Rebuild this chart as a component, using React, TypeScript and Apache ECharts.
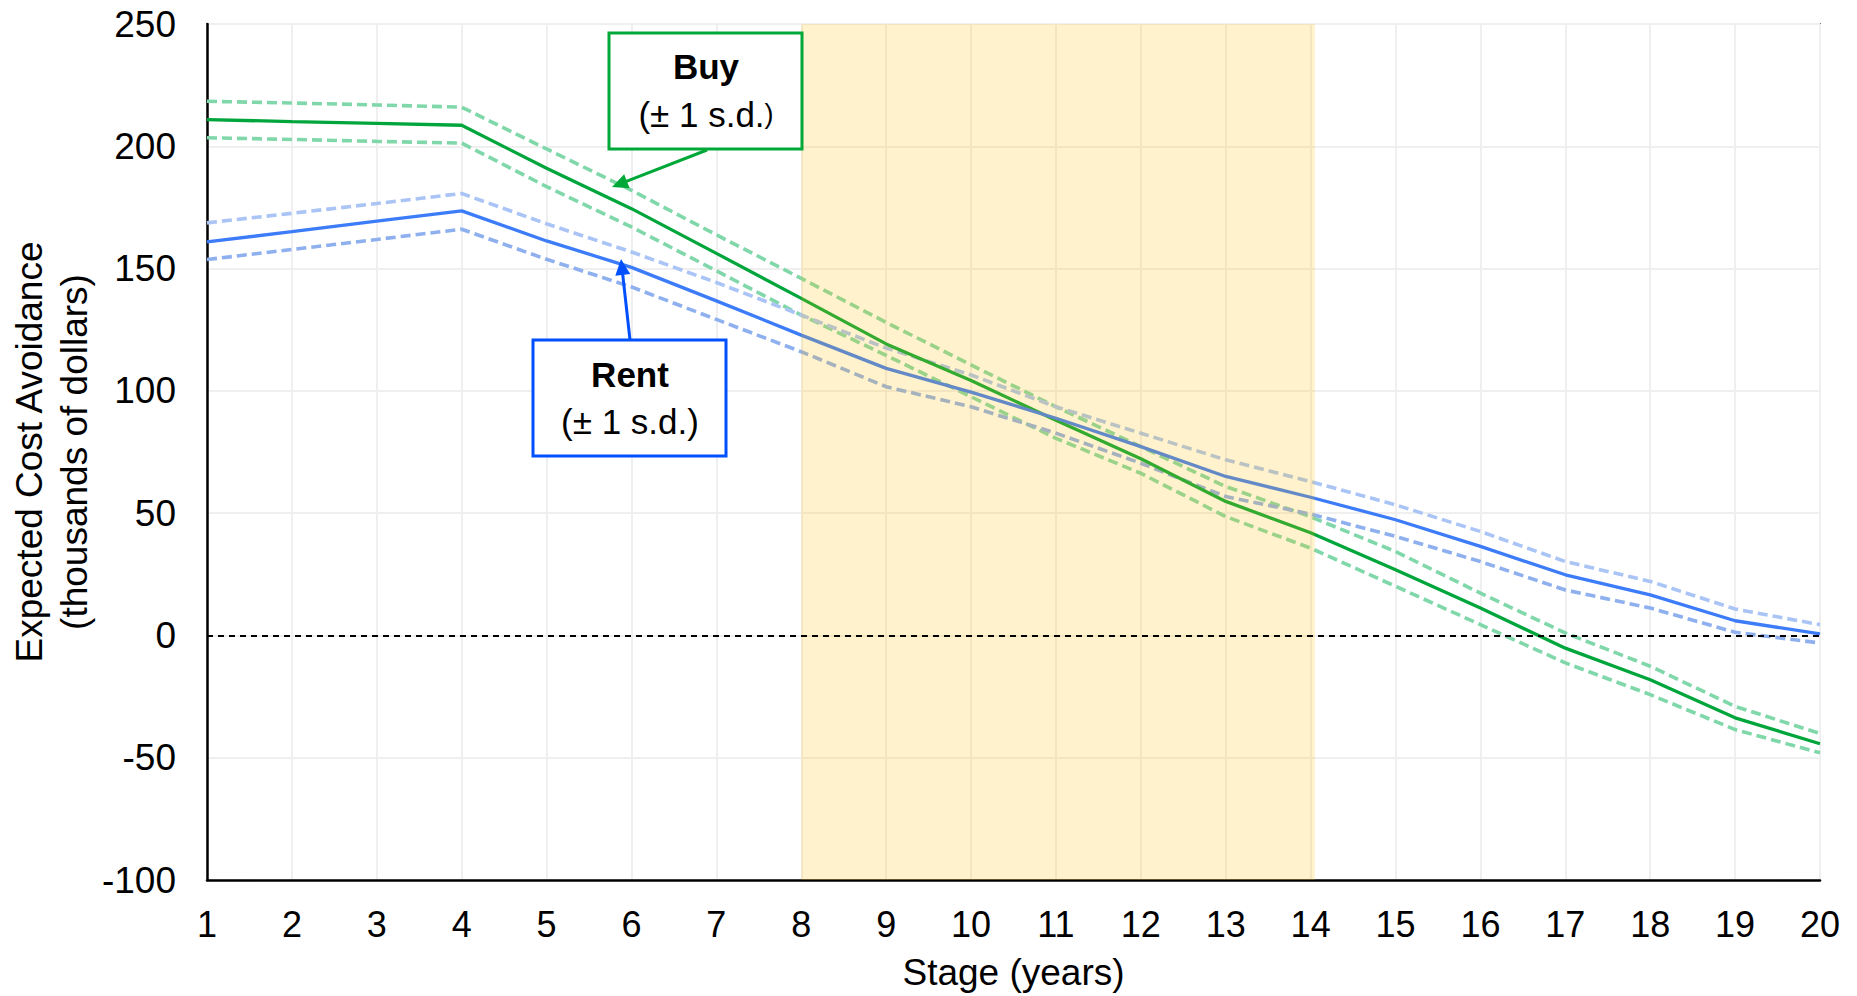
import React, { useEffect, useRef } from "react";
import * as echarts from "echarts";

const stages = [1, 2, 3, 4, 5, 6, 7, 8, 9, 10, 11, 12, 13, 14, 15, 16, 17, 18, 19, 20];
const buyMean = [210.9, 210.1, 209.4, 208.6, 191.0, 174.5, 156.2, 137.8, 119.2, 104.2, 88.0, 72.2, 54.8, 42.0, 26.9, 11.2, -5.2, -18.1, -33.7, -44.3];
const buyUpper = [218.4, 217.7, 216.9, 216.0, 198.9, 182.0, 163.8, 146.0, 128.0, 110.6, 93.5, 77.2, 60.9, 48.5, 34.3, 17.3, 1.0, -12.6, -29.0, -40.1];
const buyLower = [203.5, 202.8, 202.0, 201.3, 183.5, 167.0, 149.1, 131.0, 114.5, 97.6, 80.6, 66.3, 48.6, 35.7, 20.1, 4.4, -11.2, -24.2, -38.5, -48.0];
const rentMean = [160.9, 165.1, 169.4, 173.6, 161.3, 150.5, 136.8, 122.8, 109.2, 99.5, 88.8, 77.2, 65.0, 56.5, 47.3, 36.4, 24.8, 16.6, 6.0, 0.6];
const rentUpper = [168.7, 172.6, 176.6, 180.7, 168.3, 156.8, 144.3, 131.0, 117.5, 106.5, 93.5, 82.7, 71.8, 62.9, 53.4, 42.5, 30.2, 22.1, 10.8, 4.4];
const rentLower = [153.7, 157.8, 161.9, 166.1, 153.8, 142.5, 129.2, 116.0, 101.7, 93.5, 82.7, 70.4, 56.8, 49.6, 40.5, 30.2, 18.6, 11.2, 1.3, -3.1];
const shadedRange = [8, 14.05];
const zeroLevel = 0;

const F = "'Liberation Sans', Arial, Helvetica, sans-serif";

function pairs(vals: number[]) {
  return stages.map((s, i) => [s, vals[i]]);
}

function arrow(x1: number, y1: number, x2: number, y2: number, color: string) {
  const dx = x2 - x1;
  const dy = y2 - y1;
  const len = Math.sqrt(dx * dx + dy * dy);
  const ux = dx / len;
  const uy = dy / len;
  const hl = 16;
  const hw = 7.5;
  const bx = x2 - ux * hl;
  const by = y2 - uy * hl;
  const nx = -uy;
  const ny = ux;
  return [
    {
      type: "line",
      z: 100,
      shape: { x1, y1, x2: bx + ux * 2, y2: by + uy * 2 },
      style: { stroke: color, lineWidth: 3 },
    },
    {
      type: "polygon",
      z: 100,
      shape: {
        points: [
          [x2, y2],
          [bx + nx * hw, by + ny * hw],
          [bx - nx * hw, by - ny * hw],
        ],
      },
      style: { fill: color },
    },
  ];
}

function label(x: number, y: number, text: string, size: number, weight: string, rich?: any) {
  return {
    type: "text",
    z: 101,
    x,
    y,
    style: {
      text,
      fontSize: size,
      fontFamily: F,
      fontWeight: weight,
      fill: "#000",
      align: "center",
      verticalAlign: "middle",
      textAlign: "center",
      textVerticalAlign: "middle",
      rich,
    },
  };
}

export default function App() {
  const ref = useRef<HTMLDivElement>(null);
  useEffect(() => {
    if (!ref.current) return;
    const chart = echarts.init(ref.current, null, { renderer: "svg" });
    const dashed = (color: string) => ({ color, width: 3.6, type: [10, 5], cap: "butt" });
    const lineSeries = (name: string, vals: number[], lineStyle: any, z: number) => ({
      name,
      type: "line",
      data: pairs(vals),
      symbol: "none",
      z,
      lineStyle,
      emphasis: { disabled: true },
    });
    const buyGreen = "#00a53c";
    const rentBlue = "#3d7cf8";
    const option: any = {
      animation: false,
      backgroundColor: "#ffffff",
      grid: {
        left: 207,
        right: 37,
        top: 24,
        bottom: 115,
        show: true,
        borderColor: "#000",
        borderWidth: 1.5,
        backgroundColor: "transparent",
      },
      xAxis: {
        type: "value",
        min: 1,
        max: 20,
        interval: 1,
        name: "Stage (years)",
        nameLocation: "middle",
        nameGap: 74,
        nameTextStyle: { fontSize: 37, color: "#000", fontFamily: F },
        axisLine: { show: true, onZero: false, lineStyle: { color: "#000", width: 2.5 } },
        axisTick: { show: false },
        axisLabel: { fontSize: 36, color: "#000", fontFamily: F, margin: 26 },
        splitLine: { show: true, lineStyle: { color: "#efefef", width: 2 } },
      },
      yAxis: {
        type: "value",
        min: -100,
        max: 250,
        interval: 50,
        axisLine: { show: true, lineStyle: { color: "#000", width: 2.5 } },
        axisTick: { show: false },
        axisLabel: { fontSize: 37, color: "#000", fontFamily: F, margin: 31 },
        splitLine: { show: true, lineStyle: { color: "#efefef", width: 2 } },
      },
      series: [
        lineSeries("Buy +1 s.d.", buyUpper, dashed("#80d8aa"), 2),
        lineSeries("Buy -1 s.d.", buyLower, dashed("#80d8aa"), 2),
        lineSeries("Buy", buyMean, { color: buyGreen, width: 3.3 }, 3),
        lineSeries("Rent +1 s.d.", rentUpper, dashed("#a9c4f5"), 2),
        lineSeries("Rent -1 s.d.", rentLower, dashed("#8fb0ee"), 2),
        lineSeries("Rent", rentMean, { color: rentBlue, width: 3.3 }, 3),
        {
          name: "shade",
          type: "line",
          data: [],
          symbol: "none",
          markArea: {
            silent: true,
            z: 10,
            itemStyle: { color: "rgba(255,192,0,0.2)" },
            data: [[{ xAxis: shadedRange[0] }, { xAxis: shadedRange[1] }]],
          },
          markLine: {
            silent: true,
            z: 11,
            symbol: ["none", "none"],
            label: { show: false },
            lineStyle: { color: "#000", type: [6, 5], width: 2 },
            data: [{ yAxis: zeroLevel }],
          },
        },
      ],
      graphic: [
        {
          type: "text",
          z: 101,
          x: 52,
          y: 452,
          rotation: Math.PI / 2,
          style: {
            text: "Expected Cost Avoidance\n(thousands of dollars)",
            fontSize: 37,
            fontFamily: F,
            fill: "#000",
            lineHeight: 45,
            align: "center",
            verticalAlign: "middle",
            textAlign: "center",
            textVerticalAlign: "middle",
          },
        },
        ...arrow(707, 150, 612, 187, "#00a838"),
        ...arrow(630, 340, 621, 259, "#0050ff"),
        {
          type: "rect",
          z: 100,
          shape: { x: 609, y: 33, width: 193, height: 116 },
          style: { fill: "#fff", stroke: "#00a838", lineWidth: 3 },
        },
        {
          type: "rect",
          z: 100,
          shape: { x: 533, y: 340, width: 193, height: 116 },
          style: { fill: "#fff", stroke: "#0050ff", lineWidth: 3 },
        },
        label(706, 66, "Buy", 35, "bold"),
        label(706, 114, "(± 1 s.d.{s|)}", 35, "normal", {
          s: { fontSize: 27, fontFamily: F, fill: "#000" },
        }),
        label(630, 374, "Rent", 35, "bold"),
        label(630, 421, "(± 1 s.d.)", 35, "normal"),
      ],
    };
    chart.setOption(option);
    return () => chart.dispose();
  }, []);
  return (
    <div
      ref={ref}
      style={{ position: "absolute", left: 0, top: 0, width: 1857, height: 996 }}
    />
  );
}
